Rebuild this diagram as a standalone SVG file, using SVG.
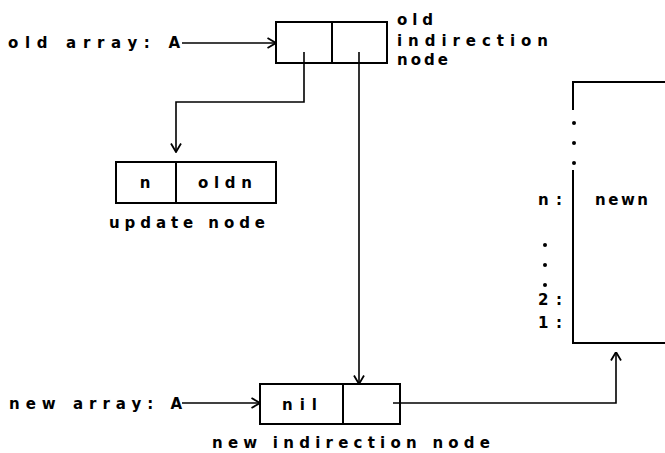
<svg xmlns="http://www.w3.org/2000/svg" width="665" height="453" viewBox="0 0 665 453">
  <defs>
    <marker id="arrow" markerUnits="userSpaceOnUse" viewBox="0 0 10 12" refX="9.5" refY="6" markerWidth="10" markerHeight="12" orient="auto">
      <path d="M1,1 L9.5,6 L1,11" fill="none" stroke="#000" stroke-width="1.8"/>
    </marker>
  </defs>
  <style>
    text { font-family: "DejaVu Sans", "Liberation Sans", sans-serif; font-size: 15px; font-weight: bold; fill: #000; }
    .box { fill: #fff; stroke: #000; stroke-width: 2; }
    .div { stroke: #000; stroke-width: 2; fill: none; }
    .conn { fill: none; stroke: #000; stroke-width: 1.6; }
    .dot { fill: #000; }
  </style>
  <rect width="665" height="453" fill="#fff"/>

  <g id="old-indirection-node">
    <rect class="box" x="276" y="22" width="111" height="41"/>
    <line class="div" x1="332" y1="22" x2="332" y2="63"/>
    <text x="397" y="25" textLength="36" lengthAdjust="spacing">old</text>
    <text x="397" y="46" textLength="151" lengthAdjust="spacing">indirection</text>
    <text x="397" y="65" textLength="51" lengthAdjust="spacing">node</text>
  </g>

  <g id="old-array-label">
    <text x="8" y="48" textLength="172" lengthAdjust="spacing">old array: A</text>
  </g>

  <g id="update-node">
    <rect class="box" x="116" y="162" width="160" height="41"/>
    <line class="div" x1="176" y1="162" x2="176" y2="203"/>
    <text x="145" y="188" text-anchor="middle">n</text>
    <text x="198" y="188" textLength="54" lengthAdjust="spacing">oldn</text>
    <text x="109" y="228" textLength="156" lengthAdjust="spacing">update node</text>
  </g>

  <g id="new-array-label">
    <text x="9" y="409" textLength="173" lengthAdjust="spacing">new array: A</text>
  </g>

  <g id="new-indirection-node">
    <rect class="box" x="260" y="384" width="140" height="40"/>
    <line class="div" x1="343" y1="384" x2="343" y2="424"/>
    <text x="282" y="410" textLength="35" lengthAdjust="spacing">nil</text>
    <text x="212" y="448" textLength="278" lengthAdjust="spacing">new indirection node</text>
  </g>

  <g id="array-block">
    <path class="div" d="M573,110 V82 H668"/>
    <path class="div" d="M573,170 V343 H668"/>
    <circle class="dot" cx="574" cy="123" r="2"/>
    <circle class="dot" cx="574" cy="143" r="2"/>
    <circle class="dot" cx="574" cy="163" r="2"/>
    <text x="538" y="205" textLength="24" lengthAdjust="spacing">n:</text>
    <text x="595" y="205" textLength="53" lengthAdjust="spacing">newn</text>
    <circle class="dot" cx="545" cy="245" r="2"/>
    <circle class="dot" cx="545" cy="265" r="2"/>
    <circle class="dot" cx="545" cy="285" r="2"/>
    <text x="538" y="305" textLength="24" lengthAdjust="spacing">2:</text>
    <text x="538" y="328" textLength="24" lengthAdjust="spacing">1:</text>
  </g>

  <g id="connectors">
    <line class="conn" x1="182" y1="43" x2="276" y2="43" marker-end="url(#arrow)"/>
    <path class="conn" d="M304,52 V102 H176 V152" marker-end="url(#arrow)"/>
    <path class="conn" d="M359,52 V384" marker-end="url(#arrow)"/>
    <line class="conn" x1="182" y1="403" x2="260" y2="403" marker-end="url(#arrow)"/>
    <path class="conn" d="M393,403 H616 V352" marker-end="url(#arrow)"/>
  </g>
</svg>
